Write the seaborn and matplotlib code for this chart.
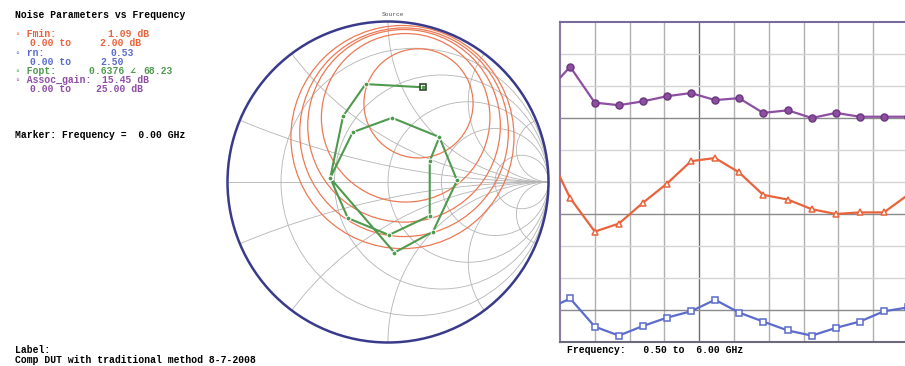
import numpy as np
import pandas as pd
import matplotlib
matplotlib.use("Agg")
import matplotlib.pyplot as plt
from matplotlib.patches import Circle
import seaborn as sns

# ---- rectangular plot: sweep frequency (GHz) and the three traces
freq = [0.28, 0.66, 1.05, 1.43, 1.81, 2.19, 2.57, 2.95, 3.33, 3.71, 4.10, 4.48, 4.86, 5.24, 5.62, 6.00]
assoc_gain = [19.45, 21.5, 18.7, 18.5, 18.8, 19.2, 19.45, 18.9, 19.05, 17.9, 18.1, 17.5, 17.9, 17.6, 17.6, 17.6]
fmin = [1.21, 0.90, 0.69, 0.74, 0.87, 0.99, 1.13, 1.15, 1.06, 0.92, 0.89, 0.83, 0.80, 0.81, 0.81, 0.92]
rn = [0.25, 0.34, 0.12, 0.05, 0.125, 0.19, 0.24, 0.33, 0.23, 0.16, 0.09, 0.05, 0.11, 0.16, 0.24, 0.27]

# ---- Smith chart: Gamma_opt trace (real, imag) over the same sweep, noise circles
gopt_re = [0.22, -0.14, -0.28, -0.36, -0.25, 0.006, 0.26, 0.26,
           0.32, 0.025, -0.22, -0.36, 0.04, 0.28, 0.43, 0.32]
gopt_im = [0.59, 0.61, 0.41, 0.025, -0.225, -0.33, -0.21, 0.13,
           0.28, 0.40, 0.31, 0.025, -0.44, -0.31, 0.01, 0.28]
nc_re = [0.19, 0.11, 0.10, 0.10, 0.09]
nc_im = [0.49, 0.40, 0.35, 0.31, 0.28]
nc_rad = [0.34, 0.525, 0.60, 0.65, 0.695]
r_grid = [0.2, 0.5, 1.0, 2.0, 5.0]
x_grid = [0.2, 0.5, 1.0, 2.0, 5.0]

C_GAIN = "#8e4fa3"
C_FMIN = "#e8643c"
C_RN = "#5b6ccc"
C_GOPT = "#4f9a4f"
C_NC = "#ec7a55"
C_EDGE = "#3a3a8c"

sns.set_style("white")
plt.rcParams["font.family"] = ["Liberation Mono", "DejaVu Sans Mono"]

W, H = 905, 366
fig = plt.figure(figsize=(W / 100, H / 100), dpi=100)


def px_axes(left, top, right, bottom):
    return fig.add_axes([left / W, 1 - bottom / H, (right - left) / W, (bottom - top) / H])


# ---------------- Smith chart ----------------
cx, cy, R = 388, 182, 160.5
ax_s = px_axes(cx - R - 2, cy - R - 2, cx + R + 2, cy + R + 2)
lim = (R + 2) / R
ax_s.set_xlim(-lim, lim)
ax_s.set_ylim(-lim, lim)
ax_s.axis("off")

unit = Circle((0, 0), 1, fill=False, lw=1.8, ec=C_EDGE, zorder=5)
ax_s.add_patch(unit)
clip = Circle((0, 0), 1, transform=ax_s.transData)
grid_col = "#b4b4b4"
ax_s.plot([-1, 1], [0, 0], color=grid_col, lw=0.6)
for r in r_grid:
    c = Circle((r / (1 + r), 0), 1 / (1 + r), fill=False, lw=0.6, ec=grid_col)
    ax_s.add_patch(c)
    c.set_clip_path(clip)
for x in x_grid:
    for s in (1, -1):
        c = Circle((1, s / x), 1 / x, fill=False, lw=0.6, ec=grid_col)
        ax_s.add_patch(c)
        c.set_clip_path(clip)

for a, b, rad in zip(nc_re, nc_im, nc_rad):
    ax_s.add_patch(Circle((a, b), rad, fill=False, lw=0.9, ec=C_NC, zorder=3))

gdf = pd.DataFrame({"re": gopt_re, "im": gopt_im})
sns.lineplot(data=gdf, x="re", y="im", sort=False, estimator=None, ax=ax_s,
             color=C_GOPT, lw=1.5, marker="o", markersize=3.5, zorder=4)
ax_s.plot(gopt_re[0], gopt_im[0], marker="s", ms=5, mfc="none", mec="#2c4a2c", mew=1.2, zorder=6)
ax_s.set_xlabel("")
ax_s.set_ylabel("")
fig.text(393 / W, 1 - 15 / H, "Source", fontsize=4.5, color="#555555", ha="center", va="center")

# ---------------- rectangular plot ----------------
ax_r = px_axes(560, 22, 908, 342)
ax_r.set_xlim(0.5, 6.0)
ax_r.set_ylim(0, 10)
xt = np.linspace(0.5, 6.0, 11)
for i, v in enumerate(xt[1:-1], start=1):
    ax_r.axvline(v, color="#6e6e6e" if i == 4 else "#b0b0b0", lw=1.0, zorder=0)
for j in range(1, 10):
    ax_r.axhline(j, color="#8a8a8a" if j in (1, 4, 7) else "#d4d4d4", lw=1.0, zorder=0)
ax_r.set_xticks([])
ax_r.set_yticks([])
ax_r.spines["right"].set_visible(False)
ax_r.spines["top"].set_color("#7a6a9a")
ax_r.spines["left"].set_color("#8a7aa8")
ax_r.spines["bottom"].set_color("#6a6a7a")
for sp in ax_r.spines.values():
    sp.set_linewidth(1.5)

traces = [
    (assoc_gain, 25.0, C_GAIN, dict(marker="o", markersize=5, markerfacecolor=C_GAIN, markeredgecolor="#6e3a80")),
    (fmin, 2.0, C_FMIN, dict(marker="^", markersize=5, markerfacecolor="white", markeredgecolor=C_FMIN)),
    (rn, 2.5, C_RN, dict(marker="s", markersize=5, markerfacecolor="white", markeredgecolor=C_RN)),
]
for vals, top, col, mk in traces:
    tw = ax_r.twinx()
    tw.set_position(ax_r.get_position())
    tw.set_ylim(0, top)
    tw.axis("off")
    sns.lineplot(x=freq, y=vals, ax=tw, color=col, lw=1.6, markeredgewidth=1.1, **mk)

# ---------------- text annotations ----------------
def t(x, y, s, color="black", size=7.0):
    fig.text(x / W, 1 - y / H, s, fontsize=size, color=color, fontweight="bold", ha="left", va="center")


t(15, 15, "Noise Parameters vs Frequency")
t(15, 34, "◦ Fmin:", C_FMIN)
t(108, 34, "1.09 dB", C_FMIN)
t(30, 43, "0.00 to", C_FMIN)
t(100, 43, "2.00 dB", C_FMIN)
t(15, 53, "◦ rn:", C_RN)
t(110, 53, "0.53", C_RN)
t(30, 62, "0.00 to", C_RN)
t(100, 62, "2.50", C_RN)
t(15, 71, "◦ Fopt:", C_GOPT)
t(89, 71, "0.6376 ∠", C_GOPT)
t(143, 71, "68.23", C_GOPT)
t(15, 80, "◦ Assoc_gain:", C_GAIN)
t(102, 80, "15.45 dB", C_GAIN)
t(30, 89, "0.00 to", C_GAIN)
t(96, 89, "25.00 dB", C_GAIN)
t(15, 135, "Marker: Frequency =  0.00 GHz")
t(15, 350, "Label:")
t(15, 360, "Comp DUT with traditional method 8-7-2008")
t(567, 350, "Frequency:   0.50 to  6.00 GHz")

fig.savefig("out.png", dpi=100)
